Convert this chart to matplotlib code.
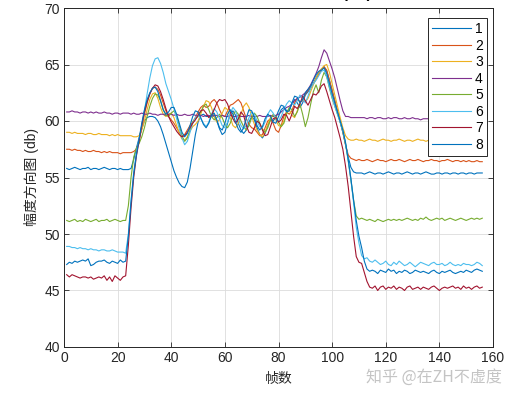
# coding=utf-8
import matplotlib
matplotlib.use("Agg")
import matplotlib.pyplot as plt
import numpy as np

plt.rcParams['font.family'] = ['Liberation Sans', 'Noto Sans CJK SC', 'DejaVu Sans']

# 8 条曲线, 帧 1..156
s1 = [55.8, 55.7, 55.8, 55.9, 55.8, 55.7, 55.8, 55.8, 55.9, 55.7,
      55.8, 55.8, 55.7, 55.8, 55.9, 55.8, 55.7, 55.8, 55.8, 55.7,
      55.8, 55.7, 55.7, 55.7, 55.8, 56.6, 57.6, 58.5, 59.3, 60.0,
      60.3, 60.4, 60.4, 60.3, 60.0, 59.5, 58.8, 58.0, 57.2, 56.4,
      55.6, 55.0, 54.5, 54.2, 54.1, 54.6, 55.8, 57.3, 58.8, 59.9,
      60.5, 60.6, 60.4, 60.4, 60.5, 60.4, 60.0, 59.3, 58.8, 59.0,
      59.8, 60.6, 60.9, 60.5, 59.8, 59.2, 58.9, 59.2, 59.9, 60.4,
      60.1, 59.4, 58.8, 58.5, 58.9, 59.6, 60.1, 60.0, 60.3, 60.9,
      61.4, 61.3, 60.9, 61.0, 61.5, 61.9, 61.6, 61.2, 61.6, 62.3,
      62.6, 62.9, 63.3, 63.8, 64.3, 64.6, 64.8, 64.4, 63.6, 62.7,
      61.8, 60.8, 59.9, 59.0, 57.9, 56.8, 55.9, 55.5, 55.4, 55.4,
      55.4, 55.3, 55.4, 55.5, 55.4, 55.3, 55.4, 55.4, 55.3, 55.4,
      55.5, 55.4, 55.3, 55.4, 55.4, 55.3, 55.4, 55.5, 55.4, 55.3,
      55.4, 55.4, 55.3, 55.4, 55.5, 55.4, 55.3, 55.3, 55.4, 55.4,
      55.3, 55.4, 55.4, 55.3, 55.4, 55.4, 55.3, 55.4, 55.4, 55.3,
      55.4, 55.4, 55.3, 55.4, 55.4, 55.4]
s2 = [57.5, 57.5, 57.4, 57.5, 57.4, 57.4, 57.3, 57.4, 57.3, 57.3,
      57.4, 57.3, 57.3, 57.2, 57.3, 57.2, 57.3, 57.2, 57.2, 57.2,
      57.1, 57.2, 57.2, 57.2, 57.2, 57.3, 57.5, 58.2, 59.4, 60.6,
      61.6, 62.4, 62.9, 63.0, 62.8, 62.3, 61.6, 60.9, 60.4, 60.1,
      59.8, 59.4, 59.0, 58.7, 58.8, 59.2, 59.6, 59.9, 60.3, 60.8,
      61.2, 61.4, 61.2, 61.3, 61.7, 61.9, 61.6, 61.0, 60.5, 60.4,
      60.9, 61.4, 61.5, 61.7, 61.9, 61.6, 60.9, 60.2, 59.7, 59.4,
      59.3, 59.0, 58.7, 58.8, 59.4, 60.0, 60.2, 59.8, 59.2, 59.0,
      59.6, 60.4, 60.8, 60.6, 60.9, 61.6, 62.0, 61.7, 61.8, 62.4,
      62.7, 63.0, 63.3, 63.7, 64.1, 64.5, 64.8, 64.5, 63.6, 62.7,
      61.8, 60.9, 60.0, 59.0, 57.9, 57.0, 56.7, 56.6, 56.5, 56.6,
      56.5, 56.5, 56.6, 56.5, 56.4, 56.5, 56.6, 56.5, 56.5, 56.4,
      56.5, 56.6, 56.5, 56.5, 56.6, 56.5, 56.4, 56.5, 56.6, 56.5,
      56.5, 56.6, 56.5, 56.4, 56.5, 56.5, 56.6, 56.5, 56.5, 56.4,
      56.5, 56.5, 56.6, 56.5, 56.4, 56.5, 56.5, 56.4, 56.5, 56.4,
      56.5, 56.4, 56.4, 56.5, 56.4, 56.4]
s3 = [59.0, 59.0, 58.9, 59.0, 58.9, 58.9, 58.9, 58.8, 58.9, 58.9,
      58.8, 58.8, 58.9, 58.8, 58.8, 58.8, 58.7, 58.8, 58.7, 58.8,
      58.7, 58.7, 58.7, 58.7, 58.7, 58.6, 58.6, 58.7, 59.2, 60.0,
      61.0, 61.9, 62.4, 62.5, 62.0, 61.2, 60.6, 60.4, 60.6, 60.7,
      60.3, 59.6, 58.9, 58.4, 58.3, 58.6, 59.1, 59.5, 59.7, 60.0,
      60.6, 61.3, 61.8, 61.7, 61.2, 60.4, 59.9, 60.1, 60.7, 61.2,
      61.0, 60.3, 59.6, 59.4, 59.8, 60.6, 61.3, 61.6, 61.2, 60.4,
      59.7, 59.2, 58.8, 58.6, 59.0, 59.7, 60.3, 60.5, 60.1, 59.6,
      59.5, 60.0, 60.7, 61.0, 60.5, 60.3, 60.9, 61.6, 61.9, 61.7,
      62.0, 62.6, 63.2, 63.8, 64.3, 64.6, 64.9, 65.0, 64.3, 63.3,
      62.3, 61.3, 60.3, 59.4, 58.7, 58.4, 58.3, 58.3, 58.4, 58.3,
      58.3, 58.2, 58.3, 58.4, 58.3, 58.3, 58.2, 58.3, 58.4, 58.3,
      58.3, 58.2, 58.3, 58.3, 58.4, 58.3, 58.2, 58.3, 58.3, 58.2,
      58.3, 58.4, 58.3, 58.3, 58.2, 58.3, 58.2, 58.3, 58.3, 58.2,
      58.3, 58.4, 58.3, 58.2, 58.3, 58.3, 58.2, 58.3, 58.3, 58.2,
      58.3, 58.2, 58.3, 58.3, 58.2, 58.3]
s4 = [60.8, 60.8, 60.9, 60.8, 60.8, 60.7, 60.8, 60.8, 60.7, 60.8,
      60.7, 60.8, 60.7, 60.7, 60.8, 60.7, 60.7, 60.6, 60.7, 60.7,
      60.6, 60.7, 60.7, 60.7, 60.6, 60.7, 60.6, 60.6, 60.7, 60.6,
      60.6, 60.7, 60.6, 60.6, 60.5, 60.6, 60.6, 60.5, 60.6, 60.6,
      60.5, 60.6, 60.5, 60.5, 60.6, 60.5, 60.5, 60.6, 60.5, 60.5,
      60.5, 60.4, 60.5, 60.5, 60.4, 60.5, 60.5, 60.4, 60.5, 60.4,
      60.4, 60.5, 60.4, 60.4, 60.5, 60.4, 60.4, 60.4, 60.5, 60.4,
      60.4, 60.4, 60.5, 60.4, 60.4, 60.4, 60.5, 60.4, 60.5, 60.6,
      60.8, 61.0, 61.2, 61.3, 61.5, 61.8, 62.0, 62.1, 62.3, 62.5,
      62.8, 63.2, 63.7, 64.2, 64.8, 65.6, 66.3, 66.0, 65.3, 64.6,
      63.8, 62.8, 61.8, 60.9, 60.4, 60.4, 60.3, 60.3, 60.3, 60.3,
      60.3, 60.3, 60.2, 60.3, 60.3, 60.2, 60.3, 60.3, 60.2, 60.2,
      60.3, 60.2, 60.3, 60.3, 60.2, 60.2, 60.3, 60.2, 60.2, 60.3,
      60.2, 60.2, 60.1, 60.2, 60.2, 60.2, 60.1, 60.2, 60.2, 60.2,
      60.1, 60.2, 60.2, 60.1, 60.2, 60.2, 60.1, 60.2, 60.2, 60.1,
      60.2, 60.2, 60.1, 60.2, 60.2, 60.1]
s5 = [51.2, 51.1, 51.2, 51.3, 51.1, 51.2, 51.1, 51.3, 51.2, 51.1,
      51.2, 51.3, 51.1, 51.2, 51.2, 51.3, 51.1, 51.2, 51.3, 51.2,
      51.1, 51.2, 51.2, 52.5, 55.0, 56.8, 57.6, 58.0, 58.6, 59.4,
      60.4, 61.3, 62.0, 62.4, 62.3, 61.8, 61.0, 60.5, 60.4, 60.7,
      60.9, 60.5, 59.6, 58.7, 58.2, 58.5, 59.2, 59.9, 60.2, 60.4,
      60.8, 61.3, 61.5, 61.0, 60.4, 60.1, 60.3, 60.6, 60.3, 59.7,
      59.4, 59.8, 60.5, 60.9, 60.6, 60.0, 59.5, 59.2, 59.6, 60.3,
      60.7, 60.4, 59.8, 59.3, 59.0, 59.4, 60.1, 60.6, 60.4, 59.9,
      59.5, 59.8, 60.6, 61.2, 61.0, 60.4, 60.8, 61.5, 60.6, 59.5,
      60.3, 61.5, 62.6, 63.2, 62.5, 63.6, 64.3, 63.9, 62.9, 62.0,
      61.3, 60.6, 59.9, 59.1, 58.0, 56.5, 54.8, 53.0, 51.6, 51.3,
      51.4, 51.3, 51.2, 51.3, 51.2, 51.1, 51.3, 51.2, 51.1, 51.2,
      51.3, 51.2, 51.3, 51.2, 51.3, 51.2, 51.3, 51.4, 51.3, 51.2,
      51.3, 51.2, 51.4, 51.3, 51.5, 51.3, 51.2, 51.3, 51.4, 51.3,
      51.4, 51.2, 51.3, 51.4, 51.3, 51.2, 51.3, 51.4, 51.3, 51.2,
      51.3, 51.4, 51.3, 51.4, 51.3, 51.4]
s6 = [48.9, 48.9, 48.8, 48.8, 48.7, 48.8, 48.7, 48.7, 48.6, 48.7,
      48.6, 48.6, 48.5, 48.6, 48.6, 48.5, 48.5, 48.6, 48.5, 48.4,
      48.4, 48.4, 48.3, 50.0, 53.0, 55.5, 57.2, 58.4, 59.6, 60.9,
      62.4, 63.8, 64.9, 65.5, 65.6, 65.1, 64.3, 63.3, 62.6, 61.9,
      61.1, 60.2, 59.3, 58.5, 57.9, 58.2, 59.0, 59.8, 60.3, 60.5,
      60.2, 59.8, 59.5, 59.9, 60.6, 61.1, 60.8, 60.2, 59.6, 59.4,
      59.9, 60.7, 61.2, 60.9, 60.2, 59.6, 59.3, 59.6, 60.3, 60.8,
      60.6, 60.0, 59.5, 59.4, 59.9, 60.6, 61.0, 60.7, 60.2, 60.0,
      60.4, 61.0, 61.5, 61.8, 61.6, 61.4, 61.8, 62.3, 62.0, 61.6,
      62.2, 62.9, 63.3, 63.6, 64.0, 64.4, 64.5, 63.9, 63.0, 62.1,
      61.3, 60.6, 59.9, 59.1, 58.0, 56.5, 54.8, 52.8, 50.6, 49.2,
      48.1, 47.8, 47.9, 47.6, 47.5, 47.7, 47.5, 47.3, 47.4, 47.6,
      47.3, 47.2, 47.5, 47.3, 47.6, 47.4, 47.2, 47.3, 47.5, 47.3,
      47.1, 47.3, 47.5, 47.4, 47.3, 47.2, 47.4, 47.5, 47.3, 47.3,
      47.4, 47.2, 47.3, 47.5, 47.3, 47.2, 47.3, 47.2, 47.4, 47.3,
      47.3, 47.2, 47.3, 47.5, 47.4, 47.2]
s7 = [46.4, 46.2, 46.4, 46.3, 46.2, 46.1, 46.2, 46.2, 46.1, 46.2,
      46.0, 46.1, 46.2, 46.1, 46.3, 45.9, 46.2, 45.8, 46.3, 46.1,
      45.9, 46.2, 46.3, 49.0, 52.3, 55.0, 56.9, 58.2, 59.6, 60.8,
      61.7, 62.4, 62.9, 63.2, 63.1, 62.6, 61.9, 61.1, 60.4, 59.9,
      59.5, 59.1, 58.8, 58.6, 58.7, 59.0, 59.4, 59.8, 60.1, 60.5,
      60.9, 61.0, 60.7, 60.3, 60.5, 61.0, 61.6, 61.9, 61.8, 61.9,
      61.5, 60.8, 60.2, 59.8, 60.2, 60.8, 60.5, 59.6, 59.0, 58.9,
      59.4, 60.0, 59.8, 59.2, 58.7, 58.8, 59.5, 60.2, 60.3, 59.9,
      60.1, 60.6, 60.5, 60.0, 60.6, 61.3, 61.1, 61.5, 62.2, 61.8,
      61.4, 61.9, 62.4, 62.3, 62.6, 63.1, 63.3, 62.6, 61.8, 61.0,
      60.3, 59.4, 58.5, 57.5, 56.0, 54.2, 52.0, 49.8, 48.0, 47.5,
      47.4, 46.6, 45.8, 45.3, 45.2, 45.4, 45.0, 45.3, 45.4, 45.1,
      45.3, 45.2, 45.4, 45.1, 45.3, 45.2, 45.0, 45.3, 45.4, 45.1,
      45.2, 45.3, 45.1, 45.3, 45.2, 45.1, 45.3, 45.4, 45.2, 45.0,
      45.2, 45.3, 45.2, 45.3, 45.4, 45.2, 45.3, 45.1, 45.4, 45.2,
      45.3, 45.1, 45.3, 45.4, 45.2, 45.3]
s8 = [47.3, 47.5, 47.4, 47.6, 47.5, 47.6, 47.7, 47.6, 47.8, 47.2,
      47.3, 47.5, 47.6, 47.6, 47.7, 47.5, 47.4, 47.6, 47.5, 47.4,
      47.7, 47.5, 47.6, 49.8, 52.8, 55.3, 57.0, 58.4, 59.8, 61.0,
      61.9, 62.5, 62.9, 63.0, 62.6, 61.8, 61.0, 60.6, 60.8, 61.2,
      61.2, 60.6, 59.8, 59.0, 58.6, 58.9, 59.6, 60.4, 60.9, 60.8,
      60.3, 59.7, 59.4, 59.8, 60.5, 60.7, 60.1, 59.4, 59.2, 59.8,
      60.6, 61.0, 60.6, 59.9, 59.3, 59.0, 59.4, 60.3, 61.0, 60.9,
      60.3, 59.6, 59.2, 59.5, 60.2, 60.6, 60.4, 59.9, 59.8, 60.4,
      61.0, 61.2, 60.8, 60.9, 61.6, 62.2, 62.1, 61.6, 61.9, 62.5,
      62.8, 63.1, 63.6, 64.1, 64.4, 64.5, 64.7, 64.2, 63.3, 62.4,
      61.6, 60.8, 60.0, 59.2, 58.1, 56.6, 54.9, 53.0, 51.2, 49.8,
      48.8, 47.6, 46.9, 46.7, 46.8, 46.7, 46.5, 46.8, 46.7, 46.6,
      46.9, 46.7, 46.8, 46.5, 46.7, 46.6, 46.8, 46.7, 46.5, 46.6,
      46.8, 46.7, 46.6, 46.7, 46.6, 46.5, 46.7, 46.8, 46.6, 46.5,
      46.7, 46.6, 46.7, 46.8, 46.6, 46.5, 46.6, 46.7, 46.6, 46.8,
      46.7, 46.6, 46.8, 46.9, 46.8, 46.7]

series = [s1, s2, s3, s4, s5, s6, s7, s8]
labels = ['1', '2', '3', '4', '5', '6', '7', '8']
# MATLAB 默认配色
colors = ['#0072BD', '#D95319', '#EDB120', '#7E2F8E',
          '#77AC30', '#4DBEEE', '#A2142F', '#0072BD']

fig = plt.figure(figsize=(5.1, 3.95), dpi=100)
ax = fig.add_axes([64 / 510, 1 - 347 / 395, 429 / 510, 339 / 395])

for s, lab, c in zip(series, labels, colors):
    frames = np.arange(1, len(s) + 1)
    ax.plot(frames, s, color=c, linewidth=0.8, label=lab)

ax.set_xlim(0, 160)
ax.set_ylim(40, 70)
ax.set_xticks(range(0, 161, 20))
ax.set_yticks(range(40, 71, 5))
ax.grid(True, color='#dcdcdc', linewidth=0.6)
ax.set_axisbelow(True)
ax.tick_params(direction='in', top=True, right=True, length=3.5,
               width=0.6, labelsize=10, colors='#262626', pad=3)
for sp in ax.spines.values():
    sp.set_color('#262626')
    sp.set_linewidth(0.7)

ax.set_xlabel('帧数', fontsize=10, color='#262626', labelpad=5)
ax.set_ylabel('幅度方向图 (db)', fontsize=10, color='#262626', labelpad=4)
# 标题在原图中被裁掉，只露出底部一点
ax.set_title('不同角度的幅度方向图 (db)', fontsize=11, fontweight='bold',
             color='#000000', pad=7.5)

leg = ax.legend(loc='upper right', bbox_to_anchor=(0.986, 0.9705),
                borderaxespad=0, fontsize=10, handlelength=2.8,
                handletextpad=0.3, labelspacing=0.18, borderpad=0.3,
                fancybox=False, framealpha=1, edgecolor='#262626')
leg.get_frame().set_linewidth(0.7)

fig.text(0.985, 0.045, '知乎 @在ZH不虚度', ha='right', va='center',
         fontsize=11.5, color='#c4c4c4',
         family=['Noto Sans CJK SC', 'DejaVu Sans'])

fig.savefig('out.png', dpi=100)
